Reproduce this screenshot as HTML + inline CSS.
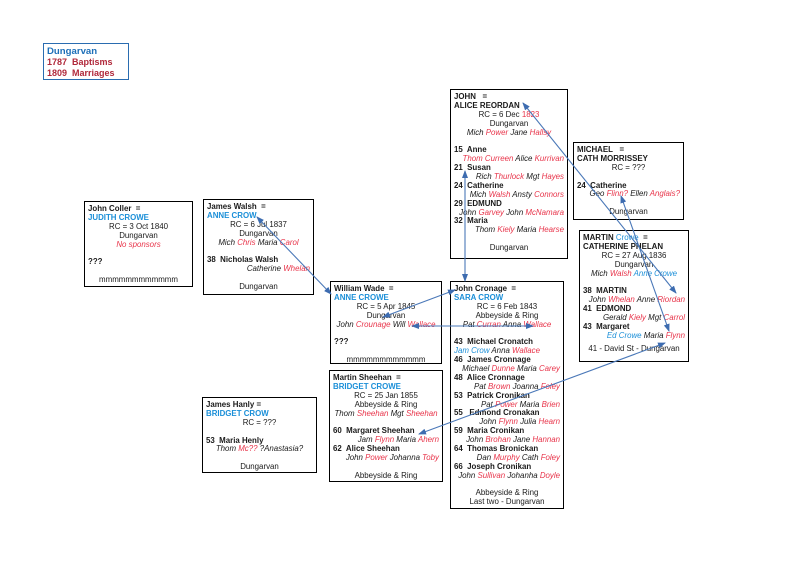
<!DOCTYPE html>
<html><head><meta charset="utf-8"><style>
body{margin:0;width:794px;height:561px;background:#fff;position:relative;overflow:hidden;font-family:"Liberation Sans",sans-serif;color:#1a1a1a}
.b{position:absolute;border:1px solid #000;box-sizing:border-box;padding:3px 3px 0 3px;font-size:7.9px;line-height:8.9px;white-space:nowrap}
.b div{height:8.9px}
.c{text-align:center}.r{text-align:right}
.k{font-weight:bold}
.u{color:#1b8fd8}.x{color:#e8344a}
i{font-style:italic}
svg{position:absolute;left:0;top:0}
</style></head><body>
<div class="b" style="left:43px;top:43px;width:86px;height:37px;border-color:#2a6cb0;padding:2px 3px;font-weight:bold;font-size:9px;line-height:11px">
<div class="u" style="height:11px;color:#1d6fb8;font-size:9.6px">Dungarvan</div><div style="height:11px;color:#b0283a">1787&nbsp; Baptisms</div><div style="height:11px;color:#b0283a">1809&nbsp; Marriages</div></div>

<div class="b" style="left:84px;top:201px;width:109px;height:86px">
<div class="k">John Coller&nbsp; =</div><div class="k u">JUDITH CROWE</div><div class="c">RC = 3 Oct 1840</div><div class="c">Dungarvan</div><div class="c x"><i>No sponsors</i></div><div></div><div class="k">???</div><div></div><div class="c">mmmmmmmmmmmm</div></div>

<div class="b" style="left:203px;top:199px;width:111px;height:96px">
<div class="k">James Walsh&nbsp; =</div><div class="k u">ANNE CROW</div><div class="c">RC = 6 Jul 1837</div><div class="c">Dungarvan</div><div class="c"><i>Mich <span class="x">Chris</span> Maria <span class="x">Carol</span></i></div><div></div><div class="k">38&nbsp; Nicholas Walsh</div><div class="r"><i>Catherine <span class="x">Whelan</span></i></div><div></div><div class="c">Dungarvan</div></div>

<div class="b" style="left:450px;top:89px;width:118px;height:170px">
<div class="k">JOHN&nbsp;&nbsp; =</div><div class="k">ALICE REORDAN</div><div class="c">RC = 6 Dec <span class="x">1823</span></div><div class="c">Dungarvan</div><div class="c"><i>Mich <span class="x">Power</span> Jane <span class="x">Hallsy</span></i></div><div></div>
<div class="k">15&nbsp; Anne</div><div class="r"><i><span class="x">Thom Curreen</span> Alice <span class="x">Kurrivan</span></i></div>
<div class="k">21&nbsp; Susan</div><div class="r"><i>Rich <span class="x">Thurlock</span> Mgt <span class="x">Hayes</span></i></div>
<div class="k">24&nbsp; Catherine</div><div class="r"><i>Mich <span class="x">Walsh</span> Ansty <span class="x">Connors</span></i></div>
<div class="k">29&nbsp; EDMUND</div><div class="r"><i>John <span class="x">Garvey</span> John <span class="x">McNamara</span></i></div>
<div class="k">32&nbsp; Maria</div><div class="r"><i>Thom <span class="x">Kiely</span> Maria <span class="x">Hearse</span></i></div><div></div><div class="c">Dungarvan</div></div>

<div class="b" style="left:573px;top:142px;width:111px;height:78px">
<div class="k">MICHAEL&nbsp;&nbsp; =</div><div class="k">CATH MORRISSEY</div><div class="c">RC = ???</div><div></div><div class="k">24&nbsp; Catherine</div><div class="r"><i>Geo <span class="x">Flinn?</span> Ellen <span class="x">Anglais?</span></i></div><div></div><div class="c">Dungarvan</div></div>

<div class="b" style="left:579px;top:230px;width:110px;height:132px">
<div class="k">MARTIN <span class="u" style="font-weight:normal">Crowe</span>&nbsp; =</div><div class="k">CATHERINE PHELAN</div><div class="c">RC = 27 Aug 1836</div><div class="c">Dungarvan</div><div class="c"><i>Mich <span class="x">Walsh</span> <span class="u">Anne Crowe</span></i></div><div></div>
<div class="k">38&nbsp; MARTIN</div><div class="r"><i>John <span class="x">Whelan</span> Anne <span class="x">Riordan</span></i></div>
<div class="k">41&nbsp; EDMOND</div><div class="r"><i>Gerald <span class="x">Kiely</span> Mgt <span class="x">Carrol</span></i></div>
<div class="k">43&nbsp; Margaret</div><div class="r"><i><span class="u">Ed Crowe</span> Maria <span class="x">Flynn</span></i></div><div style="height:4px"></div><div class="c">41 - David St - Dungarvan</div></div>

<div class="b" style="left:330px;top:281px;width:112px;height:83px">
<div class="k">William Wade&nbsp; =</div><div class="k u">ANNE CROWE</div><div class="c">RC = 5 Apr 1845</div><div class="c">Dungarvan</div><div class="c"><i>John <span class="x">Crounage</span> Will <span class="x">Wallace</span></i></div><div></div><div class="k">???</div><div></div><div class="c">mmmmmmmmmmmm</div></div>

<div class="b" style="left:450px;top:281px;width:114px;height:228px">
<div class="k">John Cronage&nbsp; =</div><div class="k u">SARA CROW</div><div class="c">RC = 6 Feb 1843</div><div class="c">Abbeyside &amp; Ring</div><div class="c"><i>Pat <span class="x">Curran</span> Anna <span class="x">Wallace</span></i></div><div></div>
<div class="k">43&nbsp; Michael Cronatch</div><div><i><span class="u">Jam Crow</span> Anna <span class="x">Wallace</span></i></div>
<div class="k">46&nbsp; James Cronnage</div><div class="r"><i>Michael <span class="x">Dunne</span> Maria <span class="x">Carey</span></i></div>
<div class="k">48&nbsp; Alice Cronnage</div><div class="r"><i>Pat <span class="x">Brown</span> Joanna <span class="x">Foley</span></i></div>
<div class="k">53&nbsp; Patrick Cronikan</div><div class="r"><i>Pat <span class="x">Power</span> Maria <span class="x">Brien</span></i></div>
<div class="k">55&nbsp;&nbsp; Edmond Cronakan</div><div class="r"><i>John <span class="x">Flynn</span> Julia <span class="x">Hearn</span></i></div>
<div class="k">59&nbsp; Maria Cronikan</div><div class="r"><i>John <span class="x">Brohan</span> Jane <span class="x">Hannan</span></i></div>
<div class="k">64&nbsp; Thomas Bronickan</div><div class="r"><i>Dan <span class="x">Murphy</span> Cath <span class="x">Foley</span></i></div>
<div class="k">66&nbsp; Joseph Cronikan</div><div class="r"><i>John <span class="x">Sullivan</span> Johanha <span class="x">Doyle</span></i></div><div></div>
<div class="c">Abbeyside &amp; Ring</div><div class="c">Last two - Dungarvan</div></div>

<div class="b" style="left:329px;top:370px;width:114px;height:112px">
<div class="k">Martin Sheehan&nbsp; =</div><div class="k u">BRIDGET CROWE</div><div class="c">RC = 25 Jan 1855</div><div class="c">Abbeyside &amp; Ring</div><div class="c"><i>Thom <span class="x">Sheehan</span> Mgt <span class="x">Sheehan</span></i></div><div></div>
<div class="k">60&nbsp; Margaret Sheehan</div><div class="r"><i>Jam <span class="x">Flynn</span> Maria <span class="x">Ahern</span></i></div>
<div class="k">62&nbsp; Alice Sheehan</div><div class="r"><i>John <span class="x">Power</span> Johanna <span class="x">Toby</span></i></div><div></div><div class="c">Abbeyside &amp; Ring</div></div>

<div class="b" style="left:202px;top:397px;width:115px;height:76px">
<div class="k">James Hanly =</div><div class="k u">BRIDGET CROW</div><div class="c">RC = ???</div><div></div><div class="k">53&nbsp; Maria Henly</div><div class="c"><i>Thom <span class="x">Mc??</span> ?Anastasia?</i></div><div></div><div class="c">Dungarvan</div></div>

<svg width="794" height="561" viewBox="0 0 794 561">
<defs><marker id="a" markerWidth="8" markerHeight="6" refX="7" refY="3" orient="auto-start-reverse" markerUnits="userSpaceOnUse"><path d="M0,0 L8,3 L0,6 z" fill="#3d6cb0"/></marker></defs>
<g stroke="#4a78b8" stroke-width="1.1" fill="none">
<line x1="257" y1="217" x2="331" y2="294" marker-start="url(#a)" marker-end="url(#a)"/>
<line x1="455" y1="290" x2="383" y2="317" marker-start="url(#a)" marker-end="url(#a)"/>
<line x1="412" y1="326" x2="533" y2="326" marker-start="url(#a)" marker-end="url(#a)"/>
<line x1="465" y1="171" x2="465" y2="281" marker-start="url(#a)" marker-end="url(#a)"/>
<line x1="523" y1="103" x2="676" y2="293" marker-start="url(#a)" marker-end="url(#a)"/>
<line x1="621" y1="196" x2="669" y2="331" marker-start="url(#a)" marker-end="url(#a)"/>
<line x1="419" y1="434" x2="665" y2="343" marker-start="url(#a)" marker-end="url(#a)"/>
</g></svg>
</body></html>
